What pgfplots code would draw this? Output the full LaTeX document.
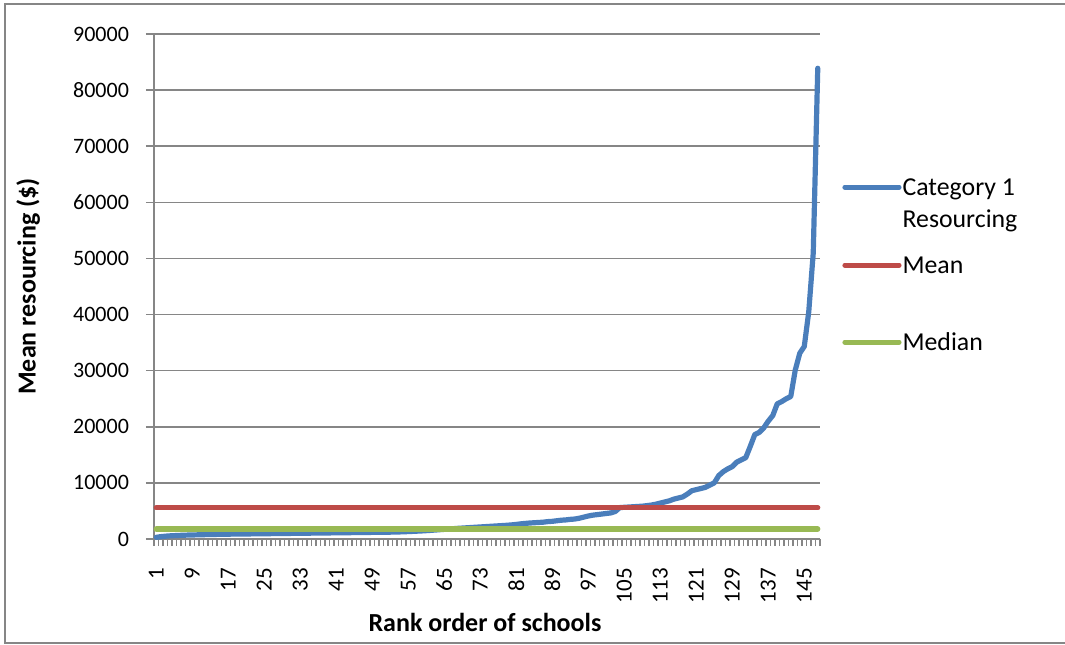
\documentclass[border=0pt]{standalone}
\usepackage{fontspec}
\setmainfont{Carlito}
\usepackage{pgfplots}
\usepackage{pgfplotstable}
\pgfplotsset{compat=1.18}
\definecolor{lineblue}{RGB}{74,126,187}
\definecolor{linered}{RGB}{190,75,72}
\definecolor{linegreen}{RGB}{152,185,84}
\definecolor{gridgray}{RGB}{134,134,134}

% rank, category 1 resourcing
\pgfplotstableread{
rank value
1 300
2 420
3 500
4 560
5 600
6 640
7 670
8 700
9 720
10 740
11 760
12 780
13 800
14 815
15 830
16 845
17 860
18 870
19 880
20 890
21 900
22 910
23 920
24 930
25 940
26 950
27 960
28 970
29 980
30 990
31 1000
32 1010
33 1020
34 1030
35 1040
36 1050
37 1060
38 1070
39 1080
40 1090
41 1100
42 1110
43 1120
44 1130
45 1140
46 1150
47 1160
48 1170
49 1180
50 1190
51 1200
52 1210
53 1220
54 1240
55 1260
56 1290
57 1320
58 1360
59 1400
60 1440
61 1490
62 1540
63 1600
64 1660
65 1720
66 1780
67 1840
68 1900
69 1950
70 2000
71 2050
72 2100
73 2150
74 2200
75 2250
76 2300
77 2350
78 2400
79 2450
80 2520
81 2600
82 2700
83 2780
84 2850
85 2900
86 2950
87 3000
88 3100
89 3150
90 3250
91 3350
92 3400
93 3500
94 3560
95 3700
96 3900
97 4100
98 4250
99 4350
100 4450
101 4550
102 4650
103 4900
104 5600
105 5650
106 5700
107 5750
108 5800
109 5850
110 5950
111 6050
112 6200
113 6400
114 6600
115 6800
116 7100
117 7300
118 7500
119 8000
120 8600
121 8800
122 9000
123 9200
124 9600
125 10000
126 11300
127 12000
128 12500
129 12900
130 13700
131 14100
132 14500
133 16500
134 18600
135 19000
136 19800
137 21000
138 22000
139 24100
140 24500
141 25000
142 25400
143 30100
144 33100
145 34300
146 40500
147 51000
148 83900
}\resourcing

\begin{document}
\begin{tikzpicture}
\path[use as bounding box] (0,0) rectangle (532.5pt,322pt);
\draw[gridgray, line width=1pt] (2.5pt,0.5pt) rectangle (545pt,319.75pt);
\begin{axis}[
    at={(77pt,52.5pt)}, anchor=south west,
    scale only axis,
    width=333pt, height=252.5pt,
    xmin=0.5, xmax=148.5,
    ymin=0, ymax=90000,
    clip=false,
    axis x line*=bottom, axis y line*=left,
    axis line style={gridgray, line width=0.75pt},
    xtick={1,9,...,145},
    minor xtick={0.5,1.5,...,148.5},
    ytick={0,10000,...,90000},
    tick align=outside,
    major tick length=4pt,
    minor tick length=3.5pt,
    major x tick style={draw=none},
    tick style={gridgray, line width=0.75pt},
    ymajorgrids=true,
    major grid style={gridgray, line width=0.75pt},
    scaled y ticks=false,
    /pgf/number format/.cd, 1000 sep={}, assume math mode=true, /pgfplots/.cd,
    tick label style={font=\fontsize{11}{13}\selectfont},
    xticklabel style={yshift=-7pt, rotate=90, anchor=east, font=\fontsize{11.5}{13}\selectfont},
    yticklabel style={anchor=east, xshift=-5pt},
    xlabel={Rank order of schools},
    ylabel={Mean resourcing (\$)},
    label style={font=\bfseries\fontsize{13}{15}\selectfont},
    xlabel style={at={(axis description cs:0.497,-0.166)}, anchor=center},
    ylabel style={at={(axis description cs:-0.189,0.5)}, anchor=center},
    legend style={draw=none, fill=none, inner sep=0pt,
        at={(axis description cs:1.033,0.714)}, anchor=north west,
        font=\fontsize{12.9}{15.8}\selectfont,
        nodes={inner sep=0pt, text depth=, align=left},
        cells={anchor=base west}, column sep=0.5pt},
    legend image code/.code={\draw[line cap=round] (0pt,4.2pt) -- (27pt,4.2pt);},
    every axis plot/.append style={line width=2.6pt, line cap=round, line join=round},
]
\addplot[lineblue, legend image code/.code={\draw[line cap=round] (0pt,20pt) -- (27pt,20pt);}]
    table[x=rank, y=value] {\resourcing};
\addlegendentry{Category 1\\Resourcing\rule[-13.2pt]{0pt}{13.2pt}}
\addplot[linered] coordinates {(1,5550) (148,5550)};
\addlegendentry{\rule[-28.5pt]{0pt}{38.5pt}Mean}
\addplot[linegreen] coordinates {(1,1780) (148,1780)};
\addlegendentry{\rule{0pt}{10pt}Median}
\end{axis}
\end{tikzpicture}
\end{document}
